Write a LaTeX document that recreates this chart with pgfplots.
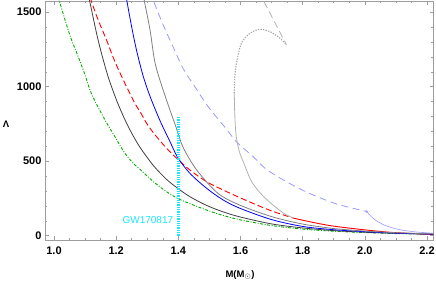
\documentclass[border=0pt]{standalone}
\usepackage{pgfplots}
\pgfplotsset{compat=1.18}
\usepackage{fontspec}
\setmainfont{Liberation Sans}
\definecolor{cgreen}{rgb}{0,0.68,0}
\definecolor{clav}{rgb}{0.6,0.6,1}
\definecolor{ccyan}{rgb}{0.1,0.9,1}
\definecolor{frame}{rgb}{0.62,0.62,0.62}
\begin{document}
\begin{tikzpicture}
\begin{axis}[
  scale only axis, width=388.5pt, height=239pt,
  xmin=0.971, xmax=2.221, ymin=-29, ymax=1575,
  xtick={1.0,1.2,1.4,1.6,1.8,2.0,2.2}, minor x tick num=3,
  ytick={0,500,1000,1500}, minor y tick num=4,
  tick align=inside, major tick length=4pt, minor tick length=2.2pt,
  axis line style={frame, line width=0.6pt},
  every tick/.style={frame, line width=0.5pt},
  /pgf/number format/assume math mode=true,
  tick label style={font=\bfseries\fontsize{11}{13}\selectfont},
  xticklabel style={yshift=-3.5pt, /pgf/number format/.cd, fixed, fixed zerofill, precision=1},
  yticklabel style={/pgf/number format/.cd, 1000 sep={}},
  xlabel={M(M$_{\odot}$)},
  xlabel style={font=\bfseries\fontsize{9.5}{11}\selectfont, at={(axis description cs:0.502,-0.145)}, anchor=center},
  ylabel={Λ},
  ylabel style={font=\bfseries\fontsize{9.5}{11}\selectfont, rotate=-90, at={(axis description cs:-0.1,0.485)}, anchor=center},
  clip=true,
]
% green dash-dot
\addplot[cgreen, line width=0.9pt, dash pattern=on 3pt off 1.6pt on 0.9pt off 1.6pt, smooth] coordinates {
(1.00,1690)(1.016,1582)(1.051,1346)(1.078,1201)(1.100,1078)(1.121,950)(1.161,788)(1.196,664)(1.228,553)(1.26,475)(1.277,445)(1.32,362)(1.362,295)(1.398,250)(1.437,215)(1.491,172)(1.534,142)(1.6,106)(1.7,68)(1.8,44)(1.9,30)(2.0,21)(2.1,14)(2.221,9)};
% dark gray solid
\addplot[black!75, line width=0.8pt, smooth] coordinates {
(1.10,1720)(1.114,1582)(1.137,1357)(1.153,1222)(1.175,1061)(1.202,905)(1.228,779)(1.25,688)(1.277,592)(1.32,470)(1.362,378)(1.398,318)(1.437,262)(1.491,203)(1.544,160)(1.6,125)(1.7,79)(1.8,52)(1.9,34)(2.0,23)(2.1,16)(2.221,10)};
% red dashed
\addplot[red, line width=0.9pt, dash pattern=on 6pt off 3pt, smooth] coordinates {
(1.11,1660)(1.119,1582)(1.142,1448)(1.169,1313)(1.196,1168)(1.228,1023)(1.26,889)(1.277,832)(1.298,754)(1.32,690)(1.362,587)(1.398,513)(1.437,441)(1.491,362)(1.544,307)(1.598,255)(1.695,170)(1.772,117)};
% red solid
\addplot[red, line width=0.9pt, smooth] coordinates {
(1.772,117)(1.8,104)(1.85,82)(1.9,64)(2.0,39)(2.1,20)(2.221,9)};
% blue solid
\addplot[blue, line width=0.8pt, smooth] coordinates {
(1.226,1700)(1.234,1582)(1.25,1400)(1.266,1240)(1.287,1070)(1.309,935)(1.341,772)(1.373,632)(1.398,525)(1.437,419)(1.491,318)(1.544,240)(1.598,184)(1.7,108)(1.8,62)(1.9,40)(2.0,27)(2.1,17)(2.221,10)};
% gray solid
\addplot[black!50, line width=0.8pt, smooth] coordinates {
(1.28,1700)(1.290,1582)(1.309,1380)(1.325,1160)(1.351,978)(1.373,844)(1.394,720)(1.416,590)(1.459,441)(1.527,285)(1.598,205)(1.7,128)(1.8,78)(1.9,48)(2.0,31)(2.1,20)(2.221,12)};
% lavender dashed
\addplot[clav, line width=0.8pt, dash pattern=on 7pt off 4.5pt, smooth] coordinates {
(1.31,1640)(1.319,1582)(1.35,1420)(1.378,1291)(1.416,1120)(1.45,1010)(1.491,880)(1.523,795)(1.555,715)(1.587,630)(1.641,530)(1.69,435)(1.795,310)(1.903,217)(2.005,163)};
% lavender solid
\addplot[clav, line width=0.6pt, smooth] coordinates {
(2.005,163)(2.012,148)(2.021,128)(2.035,103)(2.059,75)(2.08,58)(2.113,40)(2.16,26)(2.221,16)};
\addplot[clav, only marks, mark=*, mark size=0.9pt] coordinates {(2.006,162)};
% light gray solid
\addplot[black!30, line width=0.8pt, smooth] coordinates {
(1.58,956)(1.581,850)(1.583,750)(1.585,690)(1.589,630)(1.597,560)(1.61,490)(1.634,370)(1.66,295)(1.69,232)(1.72,180)(1.745,143)(1.772,117)};
% light gray dotted
\addplot[black!35, line width=1.1pt, dash pattern=on 1.3pt off 1.3pt, smooth] coordinates {
(1.58,956)(1.581,1050)(1.587,1157)(1.603,1291)(1.630,1358)(1.662,1385)(1.695,1369)(1.727,1325)(1.748,1280)};
% light gray dashed
\addplot[black!30, line width=0.8pt, dash pattern=on 7pt off 4pt] coordinates {
(1.66,1635)(1.673,1582)(1.748,1280)};
% GW170817
\addplot[ccyan, line width=2.6pt, dash pattern=on 1.3pt off 1pt] coordinates {(1.4,0)(1.4,795)};
\node[ccyan, anchor=east, font=\fontsize{10}{12}\selectfont, inner sep=0pt] at (axis cs:1.384,105) {GW170817};
\end{axis}
\pgfresetboundingbox
\path ([xshift=-45pt,yshift=-41pt]current axis.south west) rectangle ([xshift=2.5pt,yshift=1pt]current axis.north east);
\end{tikzpicture}
\end{document}
